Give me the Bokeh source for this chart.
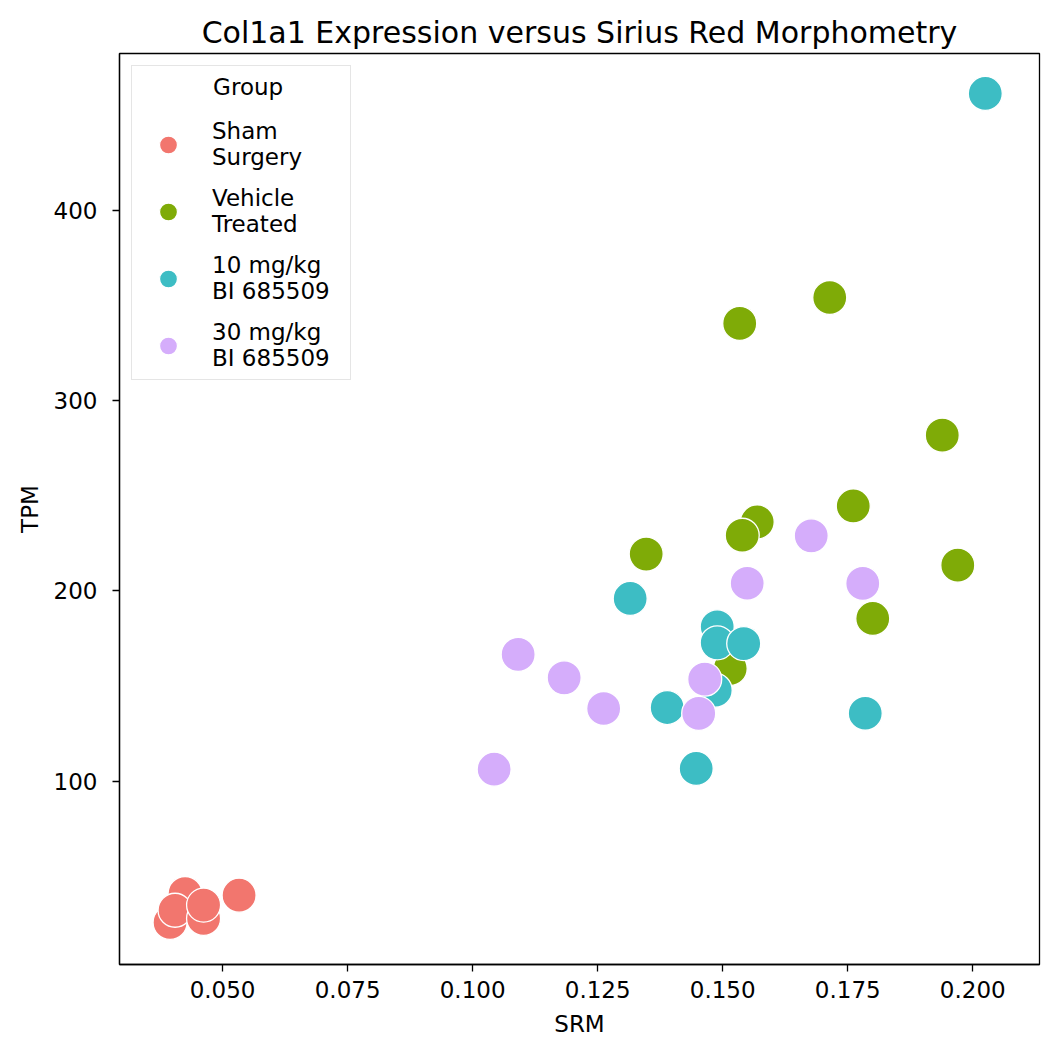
from bokeh.plotting import figure
from bokeh.models import Range1d, FixedTicker, NumeralTickFormatter, Legend, LegendItem
from bokeh.embed import file_html
from bokeh.resources import INLINE

legend_title = "Group"
groups = ["Sham\nSurgery", "Vehicle\nTreated", "10 mg/kg\nBI 685509", "30 mg/kg\nBI 685509"]
colors = ["#F2766E", "#7FAB07", "#3DBDC4", "#D5ADFB"]

sham_srm = [0.0425, 0.0395, 0.0405, 0.0462, 0.0462, 0.0533]
sham_tpm = [41.0, 25.8, 32.2, 27.9, 34.9, 40.1]

veh_srm = [0.1534, 0.1714, 0.1939, 0.1761, 0.1569, 0.1539, 0.1347, 0.1970, 0.1800, 0.1515]
veh_tpm = [340.5, 354.1, 281.8, 244.6, 236.2, 229.2, 219.3, 213.5, 185.5, 159.2]

bi10_srm = [0.2025, 0.1315, 0.1489, 0.1489, 0.1542, 0.1485, 0.1389, 0.1447, 0.1785]
bi10_tpm = [461.3, 196.0, 181.1, 172.7, 172.3, 147.8, 138.7, 106.7, 135.7]

bi30_srm = [0.1091, 0.1183, 0.1262, 0.1043, 0.1677, 0.1780, 0.1549, 0.1452, 0.1464]
bi30_tpm = [166.6, 154.3, 138.2, 106.3, 228.9, 203.9, 204.0, 135.6, 153.6]

x_ticks = [0.05, 0.075, 0.1, 0.125, 0.15, 0.175, 0.2]
y_ticks = [100, 200, 300, 400]

FONT = "DejaVu Sans"

p = figure(width=1041, height=1042, output_backend="svg", toolbar_location=None,
           x_range=Range1d(0.02939, 0.21334), y_range=Range1d(3.7, 482.3),
           min_border_left=119, min_border_right=2, min_border_top=53, min_border_bottom=78,
           title="Col1a1 Expression versus Sirius Red Morphometry")
p.title.align = "center"
p.title.text_font = FONT
p.title.text_font_size = "30px"
p.title.text_font_style = "normal"
p.title.text_color = "black"
p.title.standoff = 8

p.xgrid.visible = False
p.ygrid.visible = False
p.outline_line_color = "black"
p.outline_line_width = 1.3

for ax in (p.xaxis[0], p.yaxis[0]):
    ax.axis_line_color = "black"
    ax.axis_line_width = 1.3
    ax.major_tick_line_color = "black"
    ax.major_tick_line_width = 1.3
    ax.major_tick_out = 7
    ax.major_tick_in = 0
    ax.minor_tick_out = 0
    ax.minor_tick_in = 0
    ax.major_label_text_font = FONT
    ax.major_label_text_font_size = "23px"
    ax.major_label_text_color = "black"
    ax.axis_label_text_font = FONT
    ax.axis_label_text_font_size = "23px"
    ax.axis_label_text_font_style = "normal"
    ax.axis_label_text_color = "black"

p.xaxis.ticker = FixedTicker(ticks=x_ticks)
p.xaxis.formatter = NumeralTickFormatter(format="0.000")
p.yaxis.ticker = FixedTicker(ticks=y_ticks)
p.xaxis.axis_label = "SRM"
p.yaxis.axis_label = "TPM"
p.xaxis.major_label_standoff = 9
p.yaxis.major_label_standoff = 15
p.xaxis.axis_label_standoff = 10
p.yaxis.axis_label_standoff = 8

data = [(sham_srm, sham_tpm), (veh_srm, veh_tpm), (bi10_srm, bi10_tpm), (bi30_srm, bi30_tpm)]
renderers = []
for (xs, ys), c in zip(data, colors):
    r = p.scatter(x=xs, y=ys, size=34, marker="circle", fill_color=c, line_color="white",
                  line_width=1.3)
    renderers.append(r)

items = [LegendItem(label=g, renderers=[r]) for g, r in zip(groups, renderers)]

legend = Legend(items=items, location="top_left", margin=12, padding=8,
                spacing=15, glyph_width=56, glyph_height=45, label_standoff=16,
                label_width=130,
                label_text_font=FONT, label_text_font_size="23px", label_text_color="black",
                label_text_line_height=1.2,
                title="\u00a0" * 10 + legend_title, title_text_font=FONT,
                title_text_font_size="23px", title_text_font_style="normal",
                title_text_color="black", title_standoff=18,
                border_line_color="#cccccc", border_line_width=1.3, background_fill_alpha=0.8)
p.add_layout(legend, "center")

open("out.html", "w").write(file_html(p, INLINE))
